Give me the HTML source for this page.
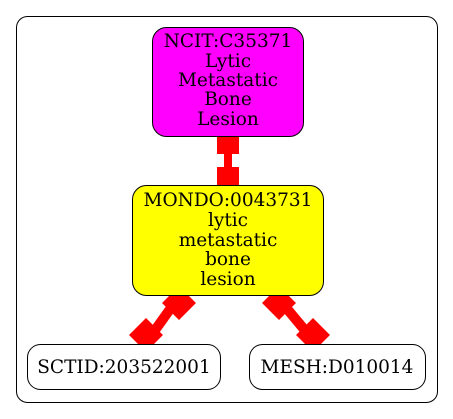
<!DOCTYPE html>
<html><head><meta charset="utf-8"><style>html,body{margin:0;padding:0;background:#fff}svg{display:block}text{font-family:"DejaVu Serif",serif;font-size:18.5px;text-anchor:middle}</style></head>
<body>
<svg width="453" height="419" viewBox="0 0 453 419">
<rect x="16.5" y="16.5" width="421" height="386" rx="11" fill="#fff" stroke="#000"/>
<g>
<line x1="228" y1="140" x2="228" y2="182" stroke="red" stroke-width="8"/>
<rect x="217" y="131" width="22" height="23" fill="red"/>
<rect x="217" y="167" width="22" height="23" fill="red"/>
</g>
<g>
<line x1="178" y1="298" x2="148" y2="340" stroke="red" stroke-width="10"/>
<rect x="-12" y="-12" width="24" height="24" fill="red" transform="translate(179,303) rotate(45)"/>
<rect x="-12" y="-12" width="24" height="24" fill="red" transform="translate(146,335) rotate(45)"/>
</g>
<g>
<line x1="278" y1="298" x2="313" y2="340" stroke="red" stroke-width="10"/>
<rect x="-12" y="-12" width="24" height="24" fill="red" transform="translate(279,303) rotate(45)"/>
<rect x="-12" y="-12" width="24" height="24" fill="red" transform="translate(313,335) rotate(45)"/>
</g>
<g>
<rect x="152.5" y="27.5" width="151" height="109" rx="14" fill="#f0f" stroke="#000"/>
<text x="228" y="47">NCIT:C35371</text><text x="228" y="67">Lytic</text><text x="228" y="86">Metastatic</text><text x="228" y="105">Bone</text><text x="228" y="125">Lesion</text>
</g>
<g>
<rect x="132.5" y="185.5" width="191" height="110" rx="14" fill="#ff0" stroke="#000"/>
<text x="228" y="206">MONDO:0043731</text><text x="228" y="226">lytic</text><text x="228" y="246">metastatic</text><text x="228" y="265">bone</text><text x="228" y="285">lesion</text>
</g>
<g>
<rect x="27.5" y="344.5" width="193" height="45" rx="13" fill="#fff" stroke="#000"/>
<text x="124" y="373">SCTID:203522001</text>
</g>
<g>
<rect x="249.5" y="344.5" width="176" height="45" rx="13" fill="#fff" stroke="#000"/>
<text x="337" y="373">MESH:D010014</text>
</g>
</svg>
</body></html>
